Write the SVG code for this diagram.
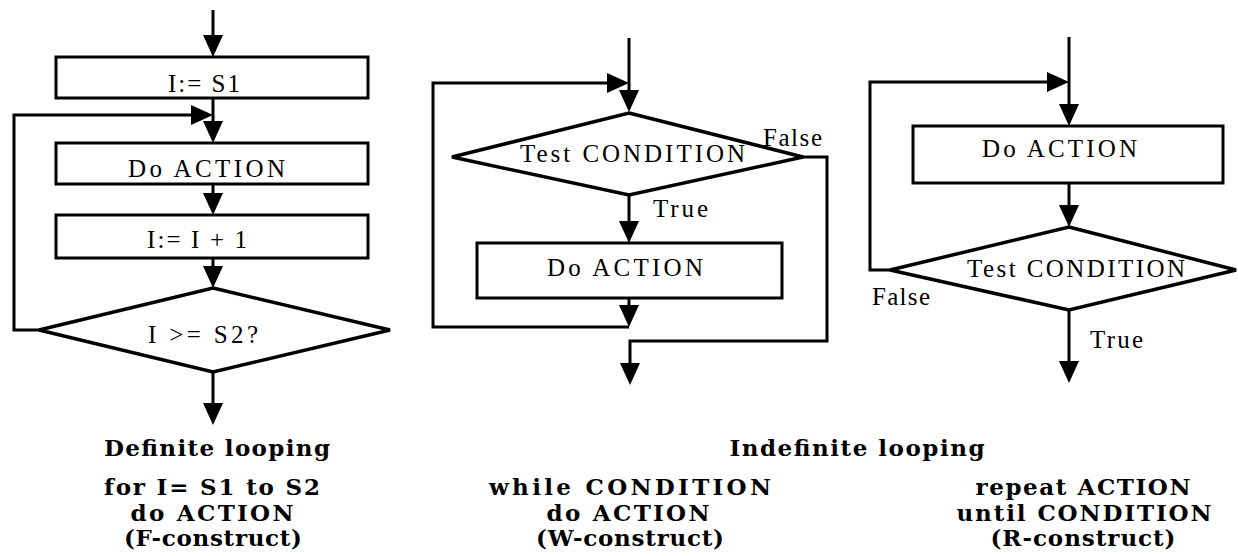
<svg xmlns="http://www.w3.org/2000/svg" width="1238" height="556" viewBox="0 0 1238 556">
<style>
.box{fill:#fff;stroke:#000;stroke-width:3}
.dia{fill:#fff;stroke:#000;stroke-width:3.5;stroke-linejoin:miter}
.ln{fill:none;stroke:#000;stroke-width:3}
.t{font-family:"Liberation Serif","Times New Roman",serif;font-size:25px;fill:#000}
.c{font-family:"DejaVu Serif","Liberation Serif",serif;font-weight:bold;font-size:23px;fill:#000;text-anchor:middle}
</style>
<defs>
<marker id="ah" viewBox="0 0 22 20" refX="16" refY="10" markerWidth="22" markerHeight="20" markerUnits="userSpaceOnUse" orient="auto">
<path d="M0,0 L22,10 L0,20 Z" fill="#000"/>
</marker>
</defs>
<rect width="1238" height="556" fill="#fff"/>
<g id="connectors">
<path class="ln" d="M213,10 V51" marker-end="url(#ah)"/>
<path class="ln" d="M213,98 V137" marker-end="url(#ah)"/>
<path class="ln" d="M40,330 H14 V115 H207" marker-end="url(#ah)"/>
<path class="ln" d="M213,184 V209" marker-end="url(#ah)"/>
<path class="ln" d="M213,258 V282" marker-end="url(#ah)"/>
<path class="ln" d="M213,372 V419" marker-end="url(#ah)"/>
<path class="ln" d="M629,38 V106" marker-end="url(#ah)"/>
<path class="ln" d="M629,327 H433 V83 H623" marker-end="url(#ah)"/>
<path class="ln" d="M629,298 V321" marker-end="url(#ah)"/>
<path class="ln" d="M629,195 V237" marker-end="url(#ah)"/>
<path class="ln" d="M803,157 H827 V341 H630 V379" marker-end="url(#ah)"/>
<path class="ln" d="M1069,37 V120" marker-end="url(#ah)"/>
<path class="ln" d="M890,270 H870 V82 H1063" marker-end="url(#ah)"/>
<path class="ln" d="M1069,183 V221" marker-end="url(#ah)"/>
<path class="ln" d="M1069,310 V377" marker-end="url(#ah)"/>
<text class="t" x="653" y="217" textLength="55">True</text>
<text class="t" x="1090" y="348" textLength="53">True</text>
</g>
<g id="f-init"><rect class="box" x="56" y="57" width="312" height="41"/><text class="t" x="168" y="92" textLength="72">I:= S1</text></g>
<g id="f-action"><rect class="box" x="56" y="143" width="312" height="41"/><text class="t" x="128" y="177" textLength="157">Do  ACTION</text></g>
<g id="f-incr"><rect class="box" x="56" y="215" width="312" height="43"/><text class="t" x="147" y="248" textLength="100">I:= I + 1</text></g>
<g id="f-test"><polygon class="dia" points="213,288 390,330 213,372 39,330"/><text class="t" x="148" y="343" textLength="110">I  >= S2?</text></g>
<g id="w-test"><polygon class="dia" points="629,113 803,157 629,195 452,157"/><text class="t" x="520" y="162" textLength="225">Test  CONDITION</text><text class="t" x="763" y="146" textLength="59">False</text></g>
<g id="w-action"><rect class="box" x="477" y="243" width="305" height="55"/><text class="t" x="547" y="276" textLength="156">Do  ACTION</text></g>
<g id="r-action"><rect class="box" x="913" y="126" width="310" height="57"/><text class="t" x="982" y="157" textLength="155">Do  ACTION</text></g>
<g id="r-test"><polygon class="dia" points="1069,227 1236,270 1069,310 890,270"/><text class="t" x="967" y="277" textLength="218">Test  CONDITION</text><text class="t" x="872" y="305" textLength="58">False</text></g>
<g id="captions">
<text class="c" x="217" y="456" textLength="226">Definite looping</text>
<text class="c" x="212" y="495" textLength="216">for I= S1 to S2</text>
<text class="c" x="212" y="521" textLength="163">do ACTION</text>
<text class="c" x="213" y="546" textLength="178">(F-construct)</text>
<text class="c" x="857" y="456" textLength="255">Indefinite looping</text>
<text class="c" x="630" y="495" textLength="282">while CONDITION</text>
<text class="c" x="628" y="521" textLength="163">do ACTION</text>
<text class="c" x="630" y="546" textLength="188">(W-construct)</text>
<text class="c" x="1083" y="495" textLength="215">repeat ACTION</text>
<text class="c" x="1084" y="521" textLength="255">until CONDITION</text>
<text class="c" x="1083" y="546" textLength="185">(R-construct)</text>
</g>
</svg>
